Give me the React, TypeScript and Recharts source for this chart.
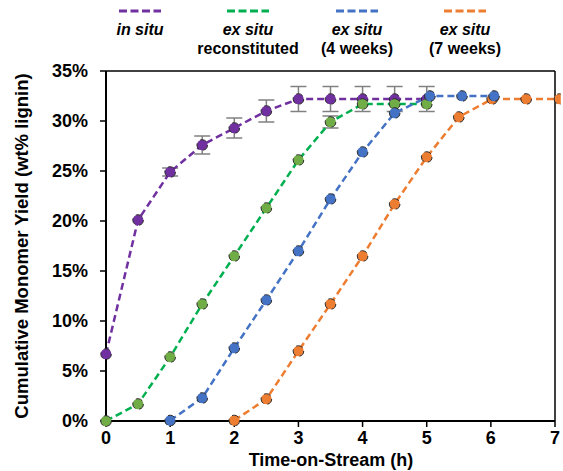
import React from 'react';
import { LineChart, Line, XAxis, YAxis, ReferenceLine, ErrorBar } from 'recharts';

// time-on-stream (h) and cumulative monomer yield (wt% lignin)
const inSituX = [0, 0.5, 1, 1.5, 2, 2.5, 3, 3.5, 4, 4.5, 5];
const inSituY = [6.7, 20.1, 24.9, 27.6, 29.3, 31.0, 32.2, 32.2, 32.2, 32.2, 32.2];
const inSituErr = [null, null, 0.4, 0.9, 1.0, 1.1, 1.25, 1.25, 1.25, 1.25, 1.25];

const reconX = [0, 0.5, 1, 1.5, 2, 2.5, 3, 3.5, 4, 4.5, 5];
const reconY = [0, 1.7, 6.4, 11.7, 16.5, 21.3, 26.1, 29.9, 31.7, 31.7, 31.7];
const reconErr = [null, null, null, null, null, null, null, 0.6, null, null, null];

const weeks4X = [1, 1.5, 2, 2.5, 3, 3.5, 4, 4.5, 5.05, 5.55, 6.05];
const weeks4Y = [0.05, 2.3, 7.3, 12.1, 17.0, 22.2, 26.9, 30.8, 32.5, 32.5, 32.5];

const weeks7X = [2, 2.5, 3, 3.5, 4, 4.5, 5, 5.5, 6.02, 6.55, 7.07];
const weeks7Y = [0.05, 2.2, 7.0, 11.7, 16.5, 21.7, 26.4, 30.4, 32.2, 32.2, 32.2];

const xTicks = [0, 1, 2, 3, 4, 5, 6, 7];
const yTicks = [0, 5, 10, 15, 20, 25, 30, 35];

const toRows = (xs: number[], ys: number[], errs?: (number | null)[]) =>
  xs.map((x, i) => ({ x, y: ys[i], err: errs ? errs[i] : null }));

const inSituData = toRows(inSituX, inSituY, inSituErr);
const reconData = toRows(reconX, reconY, reconErr);
const weeks4Data = toRows(weeks4X, weeks4Y);
const weeks7Data = toRows(weeks7X, weeks7Y);

const FONT = '"Liberation Sans", Arial, sans-serif';

const legendItems = [
  { color: '#7030A0', lines: ['in situ'], cx: 140 },
  { color: '#00B050', lines: ['ex situ', 'reconstituted'], cx: 248 },
  { color: '#4472C4', lines: ['ex situ', '(4 weeks)'], cx: 357 },
  { color: '#ED7D31', lines: ['ex situ', '(7 weeks)'], cx: 465 },
];

const dotStyle = (fill: string) => ({
  r: 5.3,
  fill,
  stroke: '#2b2b2b',
  strokeWidth: 1,
  clipDot: false,
});

const YLabel = () => {
  const cy = 71 + 350 / 2;
  return (
    <text
      x={21}
      y={cy}
      transform={`rotate(-90, 21, ${cy})`}
      textAnchor="middle"
      dominantBaseline="central"
      fontFamily={FONT}
      fontWeight="bold"
      fontSize={18.5}
      fill="#000"
    >
      Cumulative Monomer Yield (wt% lignin)
    </text>
  );
};

const XLabel = () => (
  <text
    x={331}
    y={460}
    textAnchor="middle"
    dominantBaseline="central"
    fontFamily={FONT}
    fontWeight="bold"
    fontSize={18}
    fill="#000"
  >
    Time-on-Stream (h)
  </text>
);

export default function App() {
  return (
    <div style={{ position: 'absolute', left: 0, top: 0, width: 563, height: 471, background: '#fff' }}>
      <div style={{ position: 'absolute', left: 0, top: 0, width: 563, height: 60, fontFamily: FONT }}>
        {legendItems.map((it) => (
          <div
            key={it.cx}
            style={{
              position: 'absolute',
              left: it.cx - 70,
              top: 6,
              width: 140,
              textAlign: 'center',
              fontWeight: 'bold',
              fontSize: 16,
              lineHeight: '19px',
              color: '#000',
            }}
          >
            <svg width={44} height={10} style={{ display: 'block', margin: '0 auto 4px' }}>
              <line x1={1} y1={5} x2={43} y2={5} stroke={it.color} strokeWidth={3} strokeDasharray="8 3.5" />
            </svg>
            {it.lines.map((t, i) => (
              <div key={i} style={{ fontStyle: t === 'ex situ' || t === 'in situ' ? 'italic' : 'normal' }}>
                {t}
              </div>
            ))}
          </div>
        ))}
      </div>
      <LineChart width={563} height={471} margin={{ top: 71, right: 8, bottom: 20, left: 0 }}>
        <XAxis
          type="number"
          dataKey="x"
          height={30}
          domain={[0, 7]}
          allowDataOverflow
          ticks={xTicks}
          tickSize={6}
          tickMargin={4}
          axisLine={{ stroke: '#000', strokeWidth: 2 }}
          tickLine={{ stroke: '#000', strokeWidth: 1.5 }}
          tick={{ fontFamily: FONT, fontWeight: 'bold', fontSize: 18, fill: '#000' }}
          label={{ content: XLabel }}
        />
        <YAxis
          type="number"
          dataKey="y"
          width={106}
          domain={[0, 35]}
          ticks={yTicks}
          tickSize={6}
          tickMargin={12}
          tickFormatter={(v: number) => `${v}%`}
          axisLine={{ stroke: '#000', strokeWidth: 2 }}
          tickLine={{ stroke: '#000', strokeWidth: 1.5 }}
          tick={{ fontFamily: FONT, fontWeight: 'bold', fontSize: 18, fill: '#000' }}
          label={{ content: YLabel }}
        />
        <ReferenceLine y={35} stroke="#000" strokeWidth={1.5} />
        <ReferenceLine x={7} stroke="#000" strokeWidth={1.5} />
        <Line
          data={weeks7Data}
          dataKey="y"
          stroke="#ED7D31"
          strokeWidth={2.5}
          strokeDasharray="7 4"
          dot={dotStyle('#ED7D31')}
          isAnimationActive={false}
        />
        <Line
          data={inSituData}
          dataKey="y"
          stroke="#7030A0"
          strokeWidth={2.5}
          strokeDasharray="7 4"
          dot={dotStyle('#7030A0')}
          isAnimationActive={false}
        >
          <ErrorBar dataKey="err" direction="y" width={8} stroke="#808080" strokeWidth={1.5} />
        </Line>
        <Line
          data={reconData}
          dataKey="y"
          stroke="#00B050"
          strokeWidth={2.5}
          strokeDasharray="7 4"
          dot={dotStyle('#70AD47')}
          isAnimationActive={false}
        >
          <ErrorBar dataKey="err" direction="y" width={8} stroke="#808080" strokeWidth={1.5} />
        </Line>
        <Line
          data={weeks4Data}
          dataKey="y"
          stroke="#4472C4"
          strokeWidth={2.5}
          strokeDasharray="7 4"
          dot={dotStyle('#4472C4')}
          isAnimationActive={false}
        />
      </LineChart>
    </div>
  );
}
